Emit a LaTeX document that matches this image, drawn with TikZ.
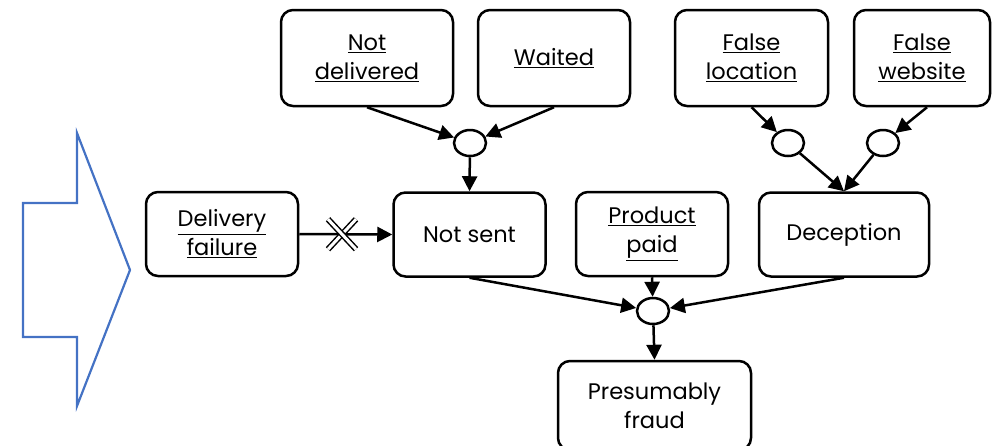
\documentclass[tikz,border=0pt]{standalone}
\usepackage{fontspec}
\setmainfont{Poppins}
\usetikzlibrary{arrows.meta,shapes.geometric}
\definecolor{arrowblue}{HTML}{4472C4}
\tikzset{
  box/.style={draw, line width=2.5pt, rounded corners=12pt, align=center,
    inner sep=0pt, font=\fontsize{22.5}{29}\selectfont},
  junction/.style={draw, line width=2.5pt, ellipse, minimum width=32pt,
    minimum height=26pt, inner sep=0pt},
  link/.style={line width=2.5pt, -{Triangle[length=15pt,width=15pt]}},
  blocked/.style={double=white, double distance=3pt, line width=1.5pt},
}
\newcommand{\ul}[1]{\underline{#1}}
\begin{document}
\begin{tikzpicture}[x=1pt, y=-1pt]
\useasboundingbox (0,0) rectangle (992,445);

% large input arrow on the left
\draw[arrowblue, line width=2.2pt, line join=miter]
  (23,203) -- (77,203) -- (77,133) -- (130,270) -- (77,406) -- (77,337) -- (23,337) -- cycle;

% upper row
\node[box, minimum width=172pt, minimum height=96pt] (nd) at (367,58) {\ul{Not}\\\ul{delivered}};
\node[box, minimum width=152pt, minimum height=96pt] (wt) at (554,58) {\ul{Waited}};
\node[box, minimum width=153pt, minimum height=96pt] (fl) at (751.5,58) {\ul{False}\\\ul{location}};
\node[box, minimum width=136pt, minimum height=96pt] (fw) at (922,58) {\ul{False}\\\ul{website}};

% junctions
\node[junction] (c1) at (470,143) {};
\node[junction] (c2) at (788,143) {};
\node[junction] (c3) at (883,143) {};
\node[junction] (c4) at (653,311) {};

% middle row
\node[box, minimum width=152pt, minimum height=84pt] (df) at (222,234) {\ul{Delivery}\\\ul{failure}};
\node[box, minimum width=152pt, minimum height=84pt] (ns) at (469.5,234.5) {Not sent};
\node[box, minimum width=152pt, minimum height=84pt] (pp) at (652,234) {\ul{Product}\\\ul{paid}};
\node[box, minimum width=170pt, minimum height=84pt] (dc) at (844,234.5) {Deception};

% result
\node[box, minimum width=193pt, minimum height=89pt] (pf) at (654.5,405.5) {Presumably\\fraud};

% connectors
\draw[link] (nd.south) -- (c1);
\draw[link] (wt.south) -- (c1);
\draw[link] (c1) -- (ns.north);
\draw[link] (fl.south) -- (c2);
\draw[link] ([xshift=5pt]fw.south) -- (c3);
\draw[link] (c2) -- (dc.north);
\draw[link] (c3) -- (dc.north);
\draw[link] (ns.south) -- (c4);
\draw[link] (pp.south) -- (c4);
\draw[link] (dc.south) -- (c4);
\draw[link] (c4) -- (pf.north);
\draw[link] (df.east) -- node[pos=0.46] (blk) {} (ns.west);

% blocking cross on the failure link
\draw[blocked] ([shift={(-14pt,-15pt)}]blk.center) -- ([shift={(14pt,15pt)}]blk.center);
\draw[blocked] ([shift={(-14pt,15pt)}]blk.center) -- ([shift={(14pt,-15pt)}]blk.center);
\end{tikzpicture}
\end{document}
